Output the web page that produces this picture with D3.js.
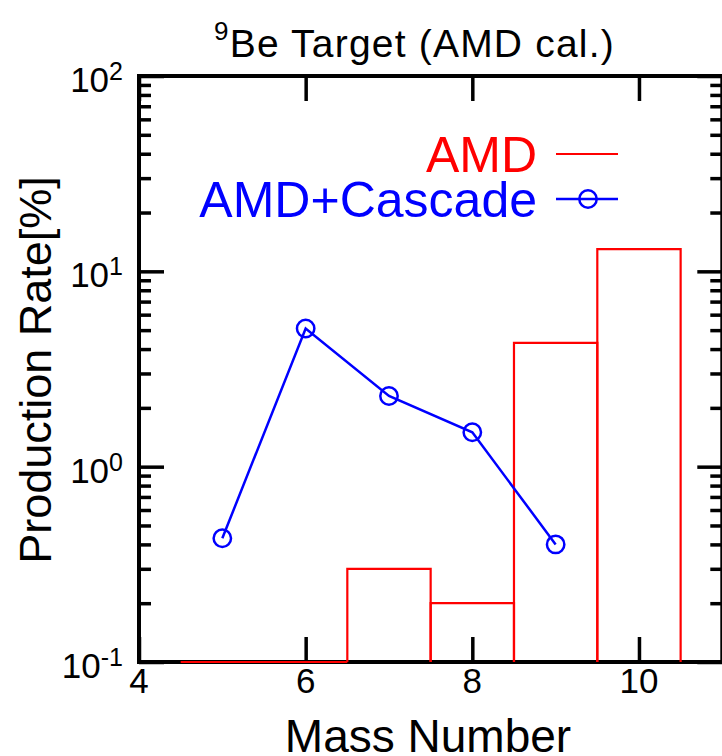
<!DOCTYPE html>
<html>
<head>
<meta charset="utf-8">
<script src="https://cdn.jsdelivr.net/npm/d3@7"></script>
<style>
  html, body { margin: 0; padding: 0; background: #fff; }
  svg { display: block; font-family: "Liberation Sans", Arial, sans-serif; }
</style>
</head>
<body>
<svg id="chart" width="722" height="756"></svg>
<script>
// AMD histogram (production rate per mass number, %)
const amdMass = [5, 6, 7, 8, 9, 10];
const amdRate = [0.1, 0.1, 0.3, 0.2, 4.3, 13];

// AMD + cascade calculation
const cascadeMass = [5, 6, 7, 8, 9];
const cascadeRate = [0.43, 5.1, 2.3, 1.5, 0.4];

// Axis ticks
const xTickValues = [4, 6, 8, 10];
const yMajorValues = [0.1, 1, 10, 100];
const yExponents = ["-1", "0", "1", "2"];

const svg = d3.select("#chart");
const plotLeft = 139, plotRight = 722.3, plotTop = 76, plotBottom = 662;

const x = d3.scaleLinear().domain([4, 11]).range([plotLeft, plotRight]);
const y = d3.scaleLog().domain([0.1, 100]).range([plotBottom, plotTop]);

const majorLen = 25, minorLen = 12;
const yMinor = y.ticks().filter(v => !yMajorValues.some(m => Math.abs(m - v) < 1e-9));

// Ticks, all pointing into the plot area
function styleAxis(g) {
  g.select(".domain").remove();
  g.selectAll(".tick line").attr("stroke", "#000").attr("stroke-width", 3.5);
  g.selectAll(".tick text").remove();
}

svg.append("g").attr("transform", `translate(${plotLeft},0)`)
  .call(d3.axisLeft(y).tickValues(yMajorValues).tickSize(-majorLen)).call(styleAxis);
svg.append("g").attr("transform", `translate(${plotLeft},0)`)
  .call(d3.axisLeft(y).tickValues(yMinor).tickSize(-minorLen)).call(styleAxis);
svg.append("g").attr("transform", `translate(${plotRight},0)`)
  .call(d3.axisRight(y).tickValues(yMajorValues).tickSize(-majorLen)).call(styleAxis);
svg.append("g").attr("transform", `translate(${plotRight},0)`)
  .call(d3.axisRight(y).tickValues(yMinor).tickSize(-minorLen)).call(styleAxis);
svg.append("g").attr("transform", `translate(0,${plotBottom})`)
  .call(d3.axisBottom(x).tickValues(xTickValues).tickSize(-majorLen)).call(styleAxis);
svg.append("g").attr("transform", `translate(0,${plotTop})`)
  .call(d3.axisTop(x).tickValues(xTickValues).tickSize(-majorLen)).call(styleAxis);

// Frame
svg.append("rect")
  .attr("x", plotLeft).attr("y", plotTop)
  .attr("width", plotRight - plotLeft).attr("height", plotBottom - plotTop)
  .attr("fill", "none").attr("stroke", "#000").attr("stroke-width", 4);

// X tick labels
svg.append("g").selectAll("text").data(xTickValues).join("text")
  .attr("x", d => x(d)).attr("y", plotBottom + 31)
  .attr("text-anchor", "middle").attr("font-size", 35).text(d => d);

// Y tick labels: 10 with exponent
const yl = svg.append("g").selectAll("text").data(yMajorValues).join("text")
  .attr("x", 123).attr("y", d => y(d) + 16)
  .attr("text-anchor", "end").attr("font-size", 35);
yl.append("tspan").text("10");
yl.append("tspan").attr("dy", -12).attr("font-size", 25).text((d, i) => yExponents[i]);

// AMD histogram bars: open outlines (no bottom edge)
svg.append("g").selectAll("path").data(amdMass).join("path")
  .attr("d", (d, i) => {
    const x0 = x(d - 0.5), x1 = x(d + 0.5), y0 = y(0.1), y1 = y(amdRate[i]);
    return `M${x0},${y0}V${y1}H${x1}V${y0}`;
  })
  .attr("fill", "none").attr("stroke", "#ff0000").attr("stroke-width", 2.2);

// AMD + cascade line with open circles
const line = d3.line().x(d => x(d[0])).y(d => y(d[1]));
const pts = cascadeMass.map((m, i) => [m, cascadeRate[i]]);
svg.append("path").datum(pts).attr("d", line)
  .attr("fill", "none").attr("stroke", "#0000ff").attr("stroke-width", 2.5);
svg.append("g").selectAll("circle").data(pts).join("circle")
  .attr("cx", d => x(d[0])).attr("cy", d => y(d[1])).attr("r", 8.7)
  .attr("fill", "none").attr("stroke", "#0000ff").attr("stroke-width", 2.5);

// Legend
const legend = svg.append("g");
legend.append("text").attr("x", 537).attr("y", 172).attr("text-anchor", "end")
  .attr("font-size", 50).attr("fill", "#ff0000").text("AMD");
legend.append("line").attr("x1", 556).attr("x2", 618).attr("y1", 154).attr("y2", 154)
  .attr("stroke", "#ff0000").attr("stroke-width", 2.2);
legend.append("text").attr("x", 537).attr("y", 217).attr("text-anchor", "end")
  .attr("font-size", 50).attr("fill", "#0000ff").text("AMD+Cascade");
legend.append("line").attr("x1", 556).attr("x2", 618).attr("y1", 199).attr("y2", 199)
  .attr("stroke", "#0000ff").attr("stroke-width", 2.5);
legend.append("circle").attr("cx", 588).attr("cy", 199).attr("r", 8.7)
  .attr("fill", "none").attr("stroke", "#0000ff").attr("stroke-width", 2.5);

// Title
const title = svg.append("text").attr("x", 214).attr("y", 57).attr("font-size", 39)
  .attr("letter-spacing", 1.2);
title.append("tspan").attr("font-size", 26).attr("dy", -17).text("9");
title.append("tspan").attr("font-size", 39).attr("dy", 17).text("Be Target (AMD cal.)");

// Axis titles
svg.append("text").attr("x", 428).attr("y", 752).attr("text-anchor", "middle")
  .attr("font-size", 46).text("Mass Number");
svg.append("text").attr("transform", "translate(51,370) rotate(-90)")
  .attr("text-anchor", "middle").attr("font-size", 45).text("Production Rate[%]");
</script>
</body>
</html>
